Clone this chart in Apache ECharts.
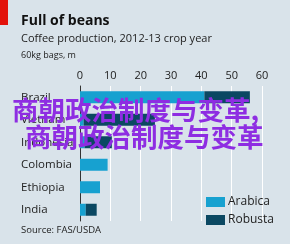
<!DOCTYPE html>
<html>
<head>
<meta charset="utf-8">
<script src="https://cdn.jsdelivr.net/npm/echarts@6/dist/echarts.min.js"></script>
<style>
  html, body { margin: 0; padding: 0; background: #d9e3ea; }
  #chart { width: 290px; height: 244px; }
</style>
</head>
<body>
<div id="chart"></div>
<script>
var countries = ['Brazil', 'Vietnam', 'Indonesia', 'Colombia', 'Ethiopia', 'India'];
var arabica = [41, 1.2, 1.5, 9.1, 6.6, 1.9];
var robusta = [15, 23.5, 9, 0, 0, 3.6];
var xTicks = [0, 10, 20, 30, 40, 50, 60];
var colorArr = ['#17a1d0', '#0b4862'];
var font = '"Open Sans", "Noto Sans", sans-serif';

var option = {
    backgroundColor: '#d9e3ea',
    animation: false,
    textStyle: { fontFamily: font },
    grid: {
        left: 80,
        right: 28,
        top: 86,
        bottom: 23
    },
    legend: {
        orient: 'vertical',
        left: 201,
        top: 191,
        icon: 'rect',
        itemWidth: 19,
        itemHeight: 10,
        itemGap: 6,
        textStyle: { color: '#222', fontSize: 12, fontFamily: font, padding: [0, 0, 0, -2] },
        data: ['Arabica', 'Robusta']
    },
    xAxis: {
        type: 'value',
        position: 'top',
        min: xTicks[0],
        max: xTicks[xTicks.length - 1],
        interval: 10,
        axisLine: { show: false },
        axisTick: { show: false },
        axisLabel: { color: '#222', fontSize: 11, margin: 5, fontFamily: font },
        splitLine: { show: true, lineStyle: { color: '#ffffff', width: 1 } }
    },
    yAxis: {
        type: 'category',
        inverse: true,
        data: countries,
        axisLine: { show: true, lineStyle: { color: '#333', width: 1 } },
        axisTick: { show: false },
        axisLabel: { color: '#222', fontSize: 11.5, align: 'left', margin: 59, fontFamily: font }
    },
    series: [
        {
            name: 'Arabica',
            type: 'bar',
            stack: 'total',
            data: arabica,
            barWidth: 12,
            itemStyle: { color: colorArr[0] }
        },
        {
            name: 'Robusta',
            type: 'bar',
            stack: 'total',
            data: robusta,
            barWidth: 12,
            itemStyle: { color: colorArr[1] }
        }
    ],
    graphic: [
        // red tag top left
        { type: 'rect', left: 0, top: 0, shape: { width: 8, height: 25 }, style: { fill: '#e3120b' } },
        { type: 'text', left: 21, top: 14, style: { text: 'Full of beans', fill: '#111', font: 'bold 14px ' + font } },
        { type: 'text', left: 21, top: 33, style: { text: 'Coffee production, 2012-13 crop year', fill: '#222', font: '11px ' + font } },
        { type: 'text', left: 21, top: 51, style: { text: '60kg bags, m', fill: '#222', font: '9px ' + font } },
        { type: 'text', left: 21, top: 225, style: { text: 'Source: FAS/USDA', fill: '#222', font: '9.5px ' + font } },
        // watermark overlay
        { type: 'text', left: 12, top: 97, z: 100, style: { text: '商朝政治制度与变革,', fill: '#8e2de2', font: 'bold 26.5px "Noto Sans CJK SC"' } },
        { type: 'text', left: 25, top: 124, z: 100, style: { text: '商朝政治制度与变革', fill: '#8e2de2', font: 'bold 26.5px "Noto Sans CJK SC"' } }
    ]
};

var chart = echarts.init(document.getElementById('chart'));
chart.setOption(option);
</script>
</body>
</html>
